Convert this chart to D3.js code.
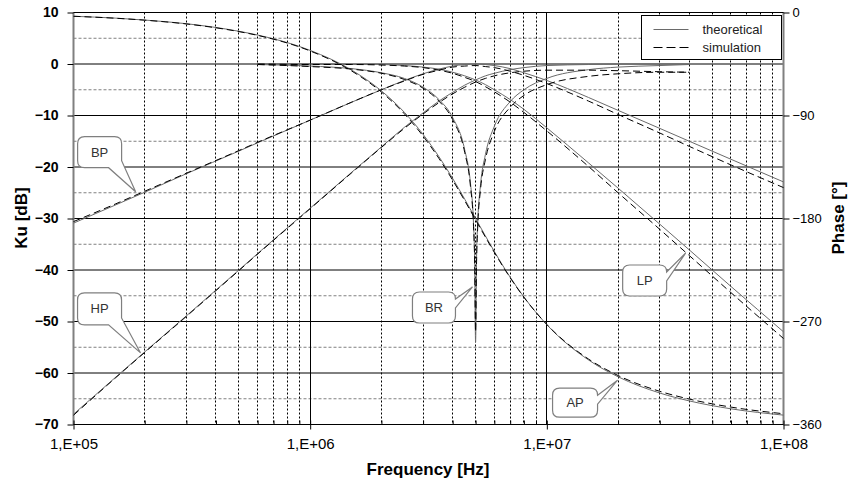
<!DOCTYPE html>
<html>
<head>
<meta charset="utf-8">
<script src="https://cdn.jsdelivr.net/npm/d3@7"></script>
<style>
body { margin: 0; background: #fff; }
svg { display: block; font-family: Arial, "Liberation Sans", sans-serif; }
.tick text { font-size: 13px; fill: #000; }
.axis path.domain { display: none; }
.axis line { stroke: #000; }
.grid-major { stroke: #000; stroke-width: 1; }
.grid-minor-h { stroke: #808080; stroke-dasharray: 3,2; }
.grid-minor-v { stroke: #000; stroke-dasharray: 2,2; }
.theory { fill: none; stroke: #6a6a6a; stroke-width: 1; }
.sim { fill: none; stroke: #000; stroke-width: 1; stroke-dasharray: 7,4; }
.callout path { fill: #fff; stroke: #7f7f7f; stroke-width: 1.2; }
.callout text { font-size: 13px; fill: #333; }
</style>
</head>
<body>
<div id="chart"></div>
<script>
// frequencies used for most curves (Hz)
var freqHz = [1e5, 1.5e5, 2e5, 3e5, 5e5, 6e5, 1e6, 1.5e6, 2e6, 2.5e6, 3e6, 3.5e6, 4e6, 4.5e6,
              5e6, 5.5e6, 6e6, 7e6, 8e6, 1e7, 1.5e7, 2e7, 3e7, 4e7, 6e7, 1e8];

// magnitudes (dB), null = not drawn
var lpTheory = [null, null, null, null, null, 0.0, 0.0, -0.1, -0.1, -0.3, -0.6, -1.0, -1.6, -2.3,
                -3.1, -4.0, -5.0, -6.9, -8.8, -12.4, -19.2, -24.1, -31.1, -36.1, -43.2, -52.0];
var lpSim    = [null, null, null, null, null, 0.0, -0.1, -0.1, -0.2, -0.4, -0.7, -1.2, -1.8, -2.6,
                -3.4, -4.4, -5.4, -7.4, -9.4, -13.0, -19.9, -25.0, -32.1, -37.2, -44.4, -53.3];

var hpTheory = [-68.0, -60.9, -55.9, -48.9, -40.0, -36.8, -28.0, -21.0, -16.1, -12.3, -9.5, -7.2, -5.5, -4.1,
                -3.1, -2.3, -1.8, -1.1, -0.7, -0.3, -0.1, 0.0, 0.0, 0.0, null, null];
var hpSim    = [-68.2, -61.0, -56.0, -49.0, -40.1, -36.9, -28.1, -21.1, -16.2, -12.5, -9.7, -7.5, -5.8, -4.5,
                -3.5, -2.8, -2.3, -1.7, -1.4, -1.2, -1.2, -1.3, -1.5, -1.6, null, null];

var bpTheory = [-30.9, -27.4, -24.9, -21.3, -16.9, -15.3, -10.9, -7.4, -5.0, -3.2, -1.9, -1.0, -0.4, -0.1,
                0.0, -0.1, -0.3, -0.9, -1.7, -3.2, -6.5, -9.0, -12.5, -15.0, -18.5, -22.9];
var bpSim    = [-30.6, -27.2, -24.7, -21.2, -16.8, -15.2, -10.9, -7.4, -5.0, -3.3, -2.0, -1.2, -0.6, -0.4,
                -0.3, -0.5, -0.7, -1.4, -2.2, -3.8, -7.2, -9.8, -13.4, -16.0, -19.6, -24.0];

// all-pass phase (degrees, right axis)
var apPhaseTheory = [-3.3, -4.9, -6.6, -9.8, -16.4, -19.7, -33.1, -50.4, -68.5, -87.2, -106.5, -126.0, -145.0, -163.2,
                     -180.0, -195.2, -208.8, -231.3, -248.6, -272.8, -303.6, -318.3, -332.5, -339.4, -346.3, -351.8];
var apPhaseSim    = [-3.3, -5.0, -6.7, -10.0, -16.7, -20.0, -33.6, -51.2, -69.5, -88.5, -108.0, -127.5, -146.5, -164.5,
                     -181.2, -196.2, -209.6, -231.8, -248.8, -272.6, -302.8, -317.2, -331.0, -337.8, -344.8, -350.6];

// band reject has its own, denser frequencies around the notch
var brFreqHz = [6e5, 1e6, 1.5e6, 2e6, 2.5e6, 3e6, 3.5e6, 4e6, 4.5e6, 4.75e6, 4.9e6, 4.95e6, 5e6,
                5.05e6, 5.1e6, 5.25e6, 5.5e6, 6e6, 7e6, 8e6, 1e7, 1.5e7, 2e7, 3e7, 4e7];
var brTheory = [-0.1, -0.4, -0.9, -1.7, -2.8, -4.5, -6.9, -10.4, -16.7, -22.9, -31.0, -37.1, -54.0,
                -37.1, -31.2, -23.3, -17.6, -12.1, -7.3, -5.0, -2.8, -1.1, -0.6, -0.3, -0.1];
var brSim    = [-0.1, -0.5, -1.0, -1.8, -3.0, -4.7, -7.2, -10.8, -17.2, -23.5, -31.5, -37.5, -52.0,
                -37.8, -32.0, -24.2, -18.6, -13.1, -8.4, -6.1, -4.0, -2.4, -1.9, -1.6, -1.6];

// axis ticks
var dbTicks = [-70, -60, -50, -40, -30, -20, -10, 0, 10];
var phaseTicks = [0, -90, -180, -270, -360];
var freqTicks = [1e5, 1e6, 1e7, 1e8];

// callout labels, tip at a point of the curve
var callouts = [
  {label: "BP", f: 1.83e5, db: -24.8, dx: -58, dy: -55, w: 44, h: 31, tail: "bottom"},
  {label: "HP", f: 1.92e5, db: -56.1, dx: -63, dy: -60, w: 44, h: 32, tail: "bottom"},
  {label: "BR", f: 4.85e6, db: -43.3, dx: -60, dy: 5, w: 43, h: 31, tail: "top"},
  {label: "LP", f: 3.86e7, db: -36.7, dx: -63, dy: 12, w: 44, h: 31, tail: "top"},
  {label: "AP", f: 1.99e7, db: -61.4, dx: -65, dy: 8, w: 45, h: 29, tail: "top"}
];

var margin = {top: 13, right: 75, bottom: 59, left: 73},
    width = 858 - margin.left - margin.right,
    height = 484 - margin.top - margin.bottom;

var x = d3.scaleLog().domain([1e5, 1e8]).range([0, width]);
var y = d3.scaleLinear().domain([-70, 10]).range([height, 0]);
var yPhase = d3.scaleLinear().domain([-360, 0]).range([height, 0]);

var root = d3.select("#chart").append("svg")
    .attr("width", 858)
    .attr("height", 484);

var svg = root.append("g")
    .attr("transform", "translate(" + (margin.left + 0.5) + "," + (margin.top - 0.5) + ")");

// grid
var minorFreqs = [];
[1e5, 1e6, 1e7].forEach(function(d) {
  for (var k = 2; k <= 9; k++) minorFreqs.push(d * k);
});
var minorDb = d3.range(-65, 10, 10);

svg.selectAll(".grid-minor-h")
    .data(minorDb)
  .enter().append("line")
    .attr("class", "grid-minor-h")
    .attr("x1", 0).attr("x2", width)
    .attr("y1", function(d) { return y(d); })
    .attr("y2", function(d) { return y(d); });

svg.selectAll(".grid-minor-v")
    .data(minorFreqs)
  .enter().append("line")
    .attr("class", "grid-minor-v")
    .attr("y1", 0).attr("y2", height)
    .attr("x1", function(d) { return Math.round(x(d)); })
    .attr("x2", function(d) { return Math.round(x(d)); });

svg.selectAll(".grid-major-h")
    .data(dbTicks)
  .enter().append("line")
    .attr("class", "grid-major")
    .attr("x1", 0).attr("x2", width)
    .attr("y1", function(d) { return y(d); })
    .attr("y2", function(d) { return y(d); });

svg.selectAll(".grid-major-v")
    .data([1e6, 1e7])
  .enter().append("line")
    .attr("class", "grid-major")
    .attr("y1", 0).attr("y2", height)
    .attr("x1", function(d) { return Math.round(x(d)); })
    .attr("x2", function(d) { return Math.round(x(d)); });

// side borders are grey
svg.append("line").attr("x1", 0).attr("x2", 0).attr("y1", 0).attr("y2", height)
    .attr("stroke", "#808080").attr("stroke-width", 2);
svg.append("line").attr("x1", width).attr("x2", width).attr("y1", 0).attr("y2", height)
    .attr("stroke", "#808080").attr("stroke-width", 2);

// axes
svg.append("g")
    .attr("class", "axis")
    .call(d3.axisLeft(y).tickValues(dbTicks).tickSize(6).tickPadding(9).tickFormat(d3.format("d")))
  .selectAll("text")
    .style("font-weight", "bold")
    .style("font-size", "14px");

svg.append("g")
    .attr("class", "axis")
    .attr("transform", "translate(" + width + ",0)")
    .call(d3.axisRight(yPhase).tickValues(phaseTicks).tickSize(6).tickPadding(3).tickFormat(d3.format("d")));

svg.append("g")
    .attr("class", "axis")
    .attr("transform", "translate(0," + height + ")")
    .call(d3.axisBottom(x).tickValues(freqTicks).tickSize(5).tickPadding(9)
      .tickFormat(function(d) { return "1,E+0" + Math.round(Math.log10(d)); }))
  .selectAll("text")
    .style("font-size", "15px");

svg.append("g")
    .attr("class", "axis")
    .attr("transform", "translate(0," + height + ")")
    .call(d3.axisBottom(x).tickValues(minorFreqs).tickSize(-4).tickFormat(""));

svg.append("g")
    .attr("class", "axis")
    .attr("transform", "translate(0," + height + ")")
    .call(d3.axisBottom(x).tickValues(freqTicks).tickSize(-4).tickFormat(""));

// curves
function series(freqs, vals) {
  return freqs.map(function(f, i) { return {f: f, v: vals[i]}; });
}

var lineDb = d3.line()
    .defined(function(d) { return d.v != null; })
    .curve(d3.curveMonotoneX)
    .x(function(d) { return x(d.f); })
    .y(function(d) { return y(d.v); });

var linePhase = d3.line()
    .curve(d3.curveMonotoneX)
    .x(function(d) { return x(d.f); })
    .y(function(d) { return yPhase(d.v); });

var curves = [
  {cls: "theory", path: lineDb(series(freqHz, bpTheory))},
  {cls: "theory", path: lineDb(series(freqHz, hpTheory))},
  {cls: "theory", path: lineDb(series(freqHz, lpTheory))},
  {cls: "theory", path: lineDb(series(brFreqHz, brTheory))},
  {cls: "theory", path: linePhase(series(freqHz, apPhaseTheory))},
  {cls: "sim", path: lineDb(series(freqHz, bpSim))},
  {cls: "sim", path: lineDb(series(freqHz, hpSim))},
  {cls: "sim", path: lineDb(series(freqHz, lpSim))},
  {cls: "sim", path: lineDb(series(brFreqHz, brSim))},
  {cls: "sim", path: linePhase(series(freqHz, apPhaseSim))}
];

svg.selectAll(".curve")
    .data(curves)
  .enter().append("path")
    .attr("class", function(d) { return "curve " + d.cls; })
    .attr("d", function(d) { return d.path; });

// outer top / bottom lines
svg.append("line").attr("x1", 0).attr("x2", width).attr("y1", 0).attr("y2", 0).attr("stroke", "#000");
svg.append("line").attr("x1", 0).attr("x2", width).attr("y1", height).attr("y2", height).attr("stroke", "#000");

// callouts
function calloutPath(w, h, r, tx, ty, tail) {
  var p = "M" + r + ",0H" + (w - r);
  if (tail == "top") {
    p += "Q" + w + ",0 " + w + "," + r;
    p += "L" + tx + "," + ty + "L" + w + "," + (r + 9);
    p += "V" + (h - r) + "Q" + w + "," + h + " " + (w - r) + "," + h;
    p += "H" + r;
  } else {
    p += "Q" + w + ",0 " + w + "," + r;
    p += "V" + (h - r);
    p += "L" + tx + "," + ty + "L" + (w - r - 6) + "," + h;
    p += "H" + r;
  }
  p += "Q0," + h + " 0," + (h - r) + "V" + r + "Q0,0 " + r + ",0Z";
  return p;
}

var co = svg.selectAll(".callout")
    .data(callouts)
  .enter().append("g")
    .attr("class", "callout")
    .attr("transform", function(d) {
      return "translate(" + (x(d.f) + d.dx) + "," + (y(d.db) + d.dy) + ")";
    });

co.append("path")
    .attr("d", function(d) { return calloutPath(d.w, d.h, 7, -d.dx, -d.dy, d.tail); });

co.append("text")
    .attr("x", function(d) { return d.w / 2; })
    .attr("y", function(d) { return d.h / 2; })
    .attr("dy", ".35em")
    .attr("text-anchor", "middle")
    .text(function(d) { return d.label; });

// legend
var legend = root.append("g").attr("transform", "translate(641.5,15.5)");
legend.append("rect")
    .attr("width", 140).attr("height", 44)
    .attr("fill", "#fff").attr("stroke", "#000");
legend.append("line").attr("class", "theory")
    .attr("x1", 12).attr("x2", 47).attr("y1", 14).attr("y2", 14);
legend.append("line").attr("class", "sim")
    .attr("x1", 12).attr("x2", 47).attr("y1", 32).attr("y2", 32)
    .style("stroke-dasharray", "9,4");
legend.append("text").attr("x", 61).attr("y", 18).style("font-size", "13px").attr("fill", "#222").text("theoretical");
legend.append("text").attr("x", 61).attr("y", 36).style("font-size", "13px").attr("fill", "#222").text("simulation");

// axis titles
root.append("text")
    .attr("transform", "translate(27,218) rotate(-90)")
    .attr("text-anchor", "middle")
    .style("font-size", "17px").style("font-weight", "bold")
    .text("Ku [dB]");

root.append("text")
    .attr("transform", "translate(844,218) rotate(-90)")
    .attr("text-anchor", "middle")
    .style("font-size", "17px").style("font-weight", "bold")
    .text("Phase [°]");

root.append("text")
    .attr("x", 428).attr("y", 475)
    .attr("text-anchor", "middle")
    .style("font-size", "17px").style("font-weight", "bold")
    .text("Frequency [Hz]");
</script>
</body>
</html>
